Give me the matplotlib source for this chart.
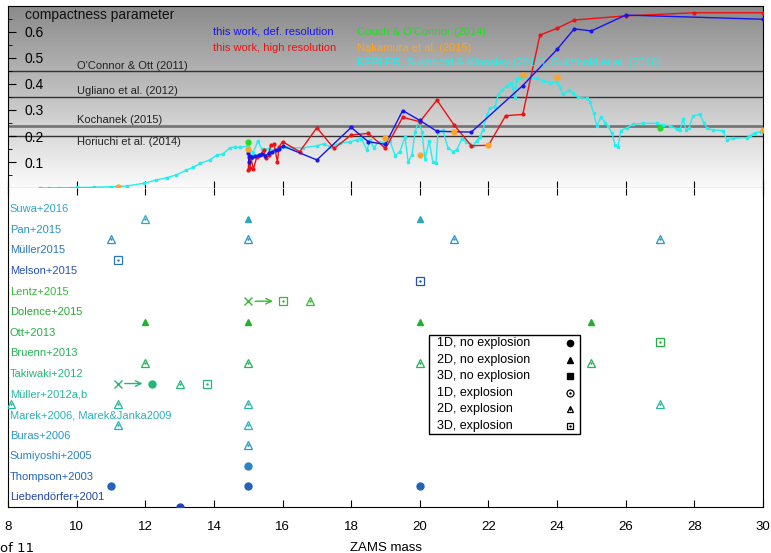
import numpy as np
import matplotlib.pyplot as plt
from matplotlib.colors import LinearSegmentedColormap
from matplotlib.patches import Rectangle

plt.rcParams['font.family'] = ['Liberation Sans', 'DejaVu Sans']

# ---------------- top panel: compactness ----------------
def_mass = [15.0, 15.02, 15.05, 15.1, 15.2, 15.3, 15.4, 15.5, 15.6, 15.7, 15.8, 15.9, 16.0,
            17.0, 18.0, 18.5, 19.0, 19.5, 20.0, 20.5, 21.5, 23.0, 24.0, 24.5, 25.0, 26.0, 30.0]
def_xi = [0.133, 0.10, 0.125, 0.12, 0.122, 0.127, 0.13, 0.123, 0.135, 0.14, 0.146, 0.15, 0.162,
          0.108, 0.233, 0.178, 0.168, 0.298, 0.26, 0.218, 0.215, 0.394, 0.533, 0.612, 0.604, 0.665, 0.649]

high_mass = [15.0, 15.02, 15.05, 15.08, 15.15, 15.25, 15.35, 15.45, 15.52, 15.6, 15.65, 15.75, 15.85,
             15.9, 16.0, 16.5, 17.0, 17.5, 18.0, 18.5, 19.0, 19.5, 20.0, 20.5, 21.0, 21.5, 22.0,
             22.5, 23.0, 23.5, 24.0, 24.5, 26.0, 28.0, 30.0]
high_xi = [0.069, 0.12, 0.076, 0.114, 0.072, 0.12, 0.127, 0.146, 0.114, 0.127, 0.165, 0.168, 0.101,
           0.159, 0.178, 0.14, 0.232, 0.152, 0.204, 0.21, 0.152, 0.272, 0.255, 0.338, 0.242, 0.163, 0.164,
           0.278, 0.283, 0.588, 0.614, 0.646, 0.662, 0.674, 0.674]

couch_mass = [15.0, 27.0]
couch_xi = [0.178, 0.232]

nak_mass = [11.2, 15.0, 19.0, 20.0, 21.0, 22.0, 23.0, 24.0, 30.0]
nak_xi = [0.004, 0.149, 0.193, 0.127, 0.214, 0.165, 0.433, 0.427, 0.223]

kep_mass = [8.93, 9.2, 9.5, 9.8, 10.0, 10.5, 11.0, 11.47, 11.95, 12.3, 12.63, 12.9, 13.2, 13.4, 13.6,
            13.88, 14.09, 14.26, 14.47, 14.6, 14.76, 15.0, 15.14, 15.28, 15.4, 15.6, 15.86, 16.1, 16.3,
            16.6, 17.0, 17.2, 17.38, 17.67, 17.96, 18.17, 18.3, 18.46, 18.55, 18.66, 18.8, 19.04, 19.13,
            19.28, 19.42, 19.57, 19.66, 19.77, 19.86, 19.97, 20.06, 20.15, 20.27, 20.38, 20.47, 20.53,
            20.67, 20.82, 20.97, 21.08, 21.23, 21.35, 21.46, 21.55, 21.66, 21.75, 21.84, 21.96, 22.04,
            22.19, 22.28, 22.39, 22.54, 22.66, 22.71, 22.77, 22.83, 22.92, 23.0, 23.21, 23.41, 23.59,
            23.79, 24.0, 24.08, 24.17, 24.35, 24.46, 24.61, 24.87, 24.96, 25.07, 25.16, 25.28, 25.4,
            25.49, 25.6, 25.69, 25.77, 25.86, 26.04, 26.21, 26.5, 26.91, 27.08, 27.29, 27.5, 27.58,
            27.67, 27.76, 27.84, 27.96, 28.16, 28.28, 28.37, 28.54, 28.83, 28.95, 29.13, 29.53, 29.62,
            29.77, 29.94]
kep_xi = [0.0, 0.0, 0.001, 0.001, 0.002, 0.003, 0.005, 0.008, 0.018, 0.03, 0.04, 0.05, 0.069, 0.08, 0.095,
          0.108, 0.127, 0.131, 0.155, 0.158, 0.156, 0.162, 0.134, 0.181, 0.15, 0.15, 0.146, 0.159, 0.155,
          0.155, 0.162, 0.17, 0.159, 0.172, 0.178, 0.185, 0.19, 0.146, 0.185, 0.154, 0.178, 0.174, 0.181,
          0.125, 0.14, 0.197, 0.101, 0.127, 0.215, 0.258, 0.217, 0.11, 0.18, 0.101, 0.097, 0.217,
          0.222, 0.155, 0.14, 0.148, 0.19, 0.178, 0.169, 0.162, 0.182, 0.197, 0.223, 0.281, 0.306,
          0.313, 0.358, 0.377, 0.392, 0.405, 0.383, 0.345, 0.418, 0.428, 0.426, 0.422, 0.422, 0.413,
          0.405, 0.409, 0.387, 0.36, 0.377, 0.364, 0.349, 0.345, 0.332, 0.287, 0.238, 0.274, 0.251,
          0.238, 0.21, 0.165, 0.156, 0.221, 0.232, 0.245, 0.249, 0.249, 0.242, 0.24, 0.226, 0.223,
          0.264, 0.223, 0.229, 0.278, 0.283, 0.251, 0.229, 0.223, 0.22, 0.185, 0.191, 0.194, 0.2,
          0.213, 0.215]

lit_names = ["O'Connor & Ott (2011)", "Ugliano et al. (2012)", "Kochanek (2015)", "Horiuchi et al. (2014)"]
lit_xi = [0.45, 0.35, 0.24, 0.20]
lit_label_y = [0.469, 0.373, 0.262, 0.177]

# ---------------- bottom panel: simulations ----------------
groups = ['Liebendörfer+2001', 'Thompson+2003', 'Sumiyoshi+2005', 'Buras+2006',
          'Marek+2006, Marek&Janka2009', 'Müller+2012a,b', 'Takiwaki+2012', 'Bruenn+2013',
          'Ott+2013', 'Dolence+2015', 'Lentz+2015', 'Melson+2015', 'Müller2015', 'Pan+2015', 'Suwa+2016']
group_colors = ['#2244b0', '#2262b8', '#2a84c6', '#2a98c8', '#28b0bc', '#25b89e', '#22b878', '#22b455',
                '#22b043', '#22b030', '#33bb33', '#2452b4', '#2a76c0', '#2a92c4', '#2ca8c4']

# (row, mass, kind): kind = dimension + 'n' (no explosion) / 'e' (explosion), 'x' = cross
sims = [
    (0, 13.0, '1n'),
    (1, 11.0, '1n'), (1, 15.0, '1n'), (1, 20.0, '1n'),
    (2, 15.0, '1n'),
    (3, 15.0, '2e'),
    (4, 11.2, '2e'), (4, 15.0, '2e'),
    (5, 8.1, '2e'), (5, 11.2, '2e'), (5, 15.0, '2e'), (5, 27.0, '2e'),
    (6, 11.2, 'x'), (6, 12.2, '1n'), (6, 13.0, '2e'), (6, 13.8, '3e'),
    (7, 12.0, '2e'), (7, 15.0, '2e'), (7, 20.0, '2e'), (7, 25.0, '2e'),
    (8, 27.0, '3e'),
    (9, 12.0, '2n'), (9, 15.0, '2n'), (9, 20.0, '2n'), (9, 25.0, '2n'),
    (10, 15.0, 'x'), (10, 16.0, '3e'), (10, 16.8, '2e'),
    (11, 20.0, '3e'),
    (12, 11.2, '3e'),
    (13, 11.0, '2e'), (13, 15.0, '2e'), (13, 21.0, '2e'), (13, 27.0, '2e'),
    (14, 12.0, '2e'), (14, 15.0, '2n'), (14, 20.0, '2n'),
]
arrows = [(6, 11.2, 12.2), (10, 15.0, 16.0)]

legend_labels = ['1D, no explosion', '2D, no explosion', '3D, no explosion',
                 '1D, explosion', '2D, explosion', '3D, explosion']
legend_kinds = ['1n', '2n', '3n', '1e', '2e', '3e']

shape = {'1': 'o', '2': '^', '3': 's'}


def draw_mark(ax, x, y, kind, c, size=5, **kw):
    if kind == 'x':
        ax.plot(x, y, 'x', color=c, ms=6, mew=1, zorder=3, **kw)
        return
    m = shape[kind[0]]
    if kind[1] == 'n':
        ax.plot(x, y, m, color=c, ms=size, mec=c, zorder=3, **kw)
    else:
        ax.plot(x, y, m, mfc='none', mec=c, ms=size + 0.8, mew=0.9, zorder=3, **kw)
        ax.plot(x, y, '.', color=c, ms=1.5, zorder=3, **kw)


fig = plt.figure(figsize=(7.71, 5.53), dpi=100)
ax1 = fig.add_axes([0.0104, 0.66, 0.9792, 0.3292])
ax2 = fig.add_axes([0.0104, 0.0832, 0.9792, 0.5768])

# --- top panel ---
cmap = LinearSegmentedColormap.from_list('bg', ['#fbfbfb', '#8a8a8a'])
ax1.imshow(np.linspace(0, 1, 256).reshape(-1, 1), extent=[8, 30, 0, 0.7], origin='lower',
           aspect='auto', cmap=cmap, zorder=0)

for name, xi, ly in zip(lit_names, lit_xi, lit_label_y):
    if name.startswith('Kochanek'):
        ax1.axhline(xi, color='#777777', lw=2, zorder=1)
    else:
        ax1.axhline(xi, color='#333333', lw=1, zorder=1)
    ax1.text(10.0, ly, name, fontsize=8, color='#222222', va='center', zorder=2)

ax1.plot(kep_mass, kep_xi, '-s', color='#22eeee', lw=1, ms=2, zorder=2)
ax1.plot(high_mass, high_xi, '-o', color='#ee1111', lw=1, ms=2, zorder=3)
ax1.plot(def_mass, def_xi, '-o', color='#1515ee', lw=1, ms=2, zorder=3)
ax1.plot(couch_mass, couch_xi, 'o', color='#22dd22', ms=3.5, zorder=4)
ax1.plot(nak_mass, nak_xi, 'o', color='#ffa520', ms=3.5, zorder=4)

ax1.text(8.5, 0.665, 'compactness parameter', fontsize=10, va='center', color='#111111')
ax1.text(13.97, 0.6, 'this work, def. resolution', fontsize=8, color='#1515ee', va='center')
ax1.text(13.97, 0.538, 'this work, high resolution', fontsize=8, color='#ee1111', va='center')
ax1.text(18.17, 0.6, "Couch & O'Connor (2014)", fontsize=8, color='#22dd22', va='center')
ax1.text(18.17, 0.538, 'Nakamura et al. (2015)', fontsize=8, color='#ffa520', va='center')
ax1.text(18.17, 0.481, 'KEPLER, Sukhbold & Woosley (2014), Sukhbold et al. (2016)',
         fontsize=8, color='#22eeee', va='center')

ax1.set_xlim(8, 30)
ax1.set_ylim(0, 0.7)
ax1.set_xticks(np.arange(8, 31, 2))
ax1.set_xticklabels([])
ax1.set_yticks(np.arange(0.1, 0.65, 0.1))
ax1.set_yticks(np.arange(0.05, 0.7, 0.1), minor=True)
ax1.set_yticklabels(['0.1', '0.2', '0.3', '0.4', '0.5', '0.6'])
ax1.tick_params(axis='y', direction='in', length=6, pad=-12, labelsize=10, right=False)
ax1.tick_params(axis='y', which='minor', direction='in', length=3)
for lbl in ax1.get_yticklabels():
    lbl.set_horizontalalignment('left')
ax1.tick_params(axis='x', direction='in', length=5, top=False)

# --- bottom panel ---
for i, (g, c) in enumerate(zip(groups, group_colors)):
    ax2.text(8.05, i + 0.47, g, fontsize=8, color=c, va='center')

for row, m, kind in sims:
    draw_mark(ax2, m, row, kind, group_colors[row])

for row, x0, x1 in arrows:
    ax2.annotate('', xy=(x1 - 0.08, row), xytext=(x0 + 0.08, row),
                 arrowprops=dict(arrowstyle='->', color=group_colors[row], lw=1,
                                 shrinkA=3, shrinkB=5))

# key: text left, symbol right, inside a plain box
box_x0, box_x1, box_y0, box_y1 = 0.5576, 0.7576, 0.2288, 0.539
ax2.add_patch(Rectangle((box_x0, box_y0), box_x1 - box_x0, box_y1 - box_y0, transform=ax2.transAxes,
                        facecolor='white', edgecolor='black', lw=1, zorder=4))
row_step = (box_y1 - box_y0) / len(legend_labels)
for i, (lab, k) in enumerate(zip(legend_labels, legend_kinds)):
    yy = box_y1 - (i + 0.5) * row_step
    ax2.text(box_x0 + 0.0106, yy, lab, fontsize=9, va='center', transform=ax2.transAxes, zorder=5)
    m = shape[k[0]]
    if k[1] == 'n':
        ax2.plot(box_x1 - 0.0132, yy, m, color='black', ms=4.5, transform=ax2.transAxes, zorder=5)
    else:
        ax2.plot(box_x1 - 0.0132, yy, m, mfc='none', mec='black', ms=5, mew=0.9,
                 transform=ax2.transAxes, zorder=5)
        ax2.plot(box_x1 - 0.0132, yy, '.', color='black', ms=1.5, transform=ax2.transAxes, zorder=5)

ax2.set_xlim(8, 30)
ax2.set_ylim(0, 15.5)
ax2.set_yticks([])
ax2.set_xticks(np.arange(8, 31, 2))
ax2.tick_params(axis='x', direction='in', length=5, top=True, labelsize=9.5, pad=10)
ax2.spines['top'].set_visible(False)

fig.text(0.5, 0.009, 'ZAMS mass', fontsize=9.5, ha='center', va='center')
fig.text(0.0, 0.009, 'of 11', fontsize=9.5, ha='left', va='center', family='DejaVu Sans')

fig.savefig('out.png', dpi=100)
